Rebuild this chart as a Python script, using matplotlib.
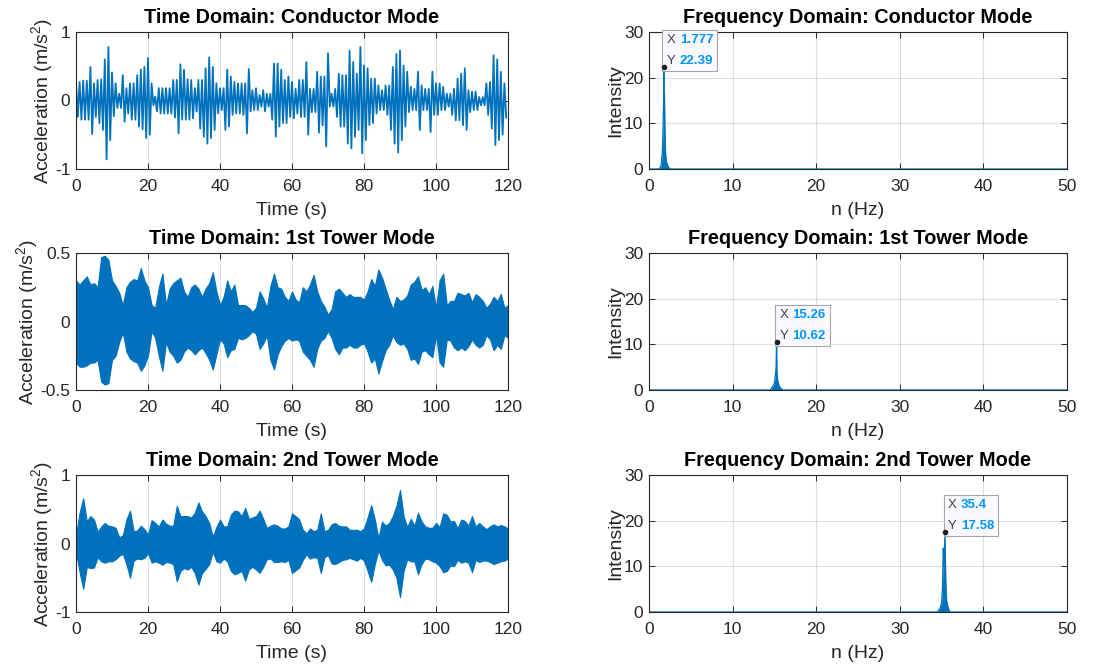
import numpy as np
import matplotlib.pyplot as plt
from matplotlib.ticker import FormatStrFormatter
from matplotlib.offsetbox import TextArea, HPacker, VPacker, AnnotationBbox

plt.rcParams['font.family'] = ['Liberation Sans', 'DejaVu Sans']
plt.rcParams['mathtext.fontset'] = 'custom'
plt.rcParams['mathtext.rm'] = 'Liberation Sans'
plt.rcParams['mathtext.it'] = 'Liberation Sans:italic'
plt.rcParams['axes.unicode_minus'] = False

#----------------------- data -----------------------#
# conductor mode: upper peaks at t = 0,1,2..., lower peaks at t = 0.5,1.5,...
cond_up = [0.26, 0.27, 0.29, 0.29, 0.49, 0.25, 0.30, 0.31, 0.60, 0.78,
           0.41, 0.25, 0.10, 0.37, 0.18, 0.25, 0.25, 0.37, 0.45, 0.49,
           0.62, 0.25, 0.06, 0.18, 0.18, 0.18, 0.18, 0.30, 0.30, 0.53,
           0.45, 0.31, 0.30, 0.18, 0.30, 0.30, 0.47, 0.63, 0.49, 0.25,
           0.18, 0.18, 0.45, 0.35, 0.27, 0.25, 0.25, 0.25, 0.46, 0.15,
           0.18, 0.08, 0.15, 0.10, 0.10, 0.54, 0.54, 0.45, 0.30, 0.35,
           0.27, 0.17, 0.30, 0.30, 0.56, 0.17, 0.17, 0.42, 0.35, 0.35,
           0.69, 0.10, 0.17, 0.39, 0.37, 0.37, 0.73, 0.56, 0.39, 0.78,
           0.51, 0.47, 0.32, 0.32, 0.22, 0.15, 0.22, 0.22, 0.49, 0.68,
           0.73, 0.51, 0.42, 0.20, 0.17, 0.42, 0.22, 0.17, 0.17, 0.42,
           0.25, 0.25, 0.20, 0.10, 0.10, 0.17, 0.32, 0.39, 0.47, 0.15,
           0.13, 0.13, 0.05, 0.05, 0.25, 0.27, 0.66, 0.60, 0.42, 0.25]
cond_lo = [-0.24, -0.28, -0.28, -0.28, -0.49, -0.24, -0.33, -0.43, -0.86, -0.58,
           -0.23, -0.11, -0.11, -0.31, -0.19, -0.28, -0.28, -0.38, -0.42, -0.55,
           -0.50, -0.07, -0.16, -0.19, -0.19, -0.19, -0.19, -0.25, -0.48, -0.28,
           -0.28, -0.28, -0.26, -0.16, -0.41, -0.53, -0.63, -0.55, -0.43, -0.19,
           -0.14, -0.43, -0.38, -0.21, -0.19, -0.19, -0.21, -0.48, -0.16, -0.14,
           -0.14, -0.09, -0.16, -0.09, -0.28, -0.53, -0.38, -0.33, -0.33, -0.24,
           -0.26, -0.19, -0.24, -0.24, -0.50, -0.17, -0.17, -0.47, -0.36, -0.67,
           -0.09, -0.09, -0.24, -0.38, -0.38, -0.63, -0.70, -0.53, -0.43, -0.77,
           -0.58, -0.36, -0.33, -0.19, -0.14, -0.14, -0.21, -0.43, -0.63, -0.76,
           -0.58, -0.38, -0.17, -0.14, -0.14, -0.43, -0.14, -0.14, -0.46, -0.21,
           -0.21, -0.14, -0.14, -0.09, -0.21, -0.29, -0.29, -0.36, -0.43, -0.17,
           -0.14, -0.14, -0.07, -0.07, -0.21, -0.41, -0.65, -0.58, -0.50, -0.25]

# 1st tower mode envelope, one value per second (t = 0..120)
tw1_up = [0.30, 0.27, 0.30, 0.33, 0.27, 0.28, 0.25, 0.47, 0.48, 0.45,
          0.30, 0.26, 0.21, 0.12, 0.25, 0.29, 0.31, 0.30, 0.39, 0.30,
          0.25, 0.12, 0.10, 0.25, 0.35, 0.12, 0.24, 0.28, 0.30, 0.32,
          0.22, 0.18, 0.25, 0.27, 0.24, 0.18, 0.24, 0.28, 0.36, 0.22,
          0.12, 0.18, 0.30, 0.22, 0.27, 0.12, 0.12, 0.12, 0.10, 0.07,
          0.10, 0.22, 0.17, 0.10, 0.26, 0.35, 0.25, 0.24, 0.18, 0.15,
          0.22, 0.16, 0.14, 0.25, 0.22, 0.27, 0.34, 0.22, 0.15, 0.11,
          0.05, 0.09, 0.22, 0.24, 0.21, 0.18, 0.20, 0.18, 0.18, 0.18,
          0.16, 0.22, 0.31, 0.26, 0.38, 0.32, 0.24, 0.16, 0.09, 0.18,
          0.15, 0.16, 0.19, 0.27, 0.29, 0.33, 0.23, 0.25, 0.20, 0.26,
          0.10, 0.30, 0.35, 0.12, 0.15, 0.15, 0.21, 0.20, 0.19, 0.21,
          0.14, 0.20, 0.18, 0.15, 0.10, 0.13, 0.18, 0.15, 0.20, 0.10, 0.12]
tw1_lo = [-0.30, -0.33, -0.33, -0.32, -0.30, -0.30, -0.28, -0.44, -0.46, -0.45,
          -0.28, -0.25, -0.15, -0.08, -0.22, -0.27, -0.29, -0.30, -0.36, -0.32,
          -0.25, -0.07, -0.12, -0.25, -0.36, -0.15, -0.22, -0.25, -0.30, -0.28,
          -0.22, -0.19, -0.21, -0.24, -0.21, -0.19, -0.23, -0.28, -0.35, -0.24,
          -0.13, -0.16, -0.26, -0.21, -0.20, -0.12, -0.13, -0.12, -0.10, -0.07,
          -0.09, -0.20, -0.16, -0.10, -0.28, -0.35, -0.24, -0.18, -0.14, -0.12,
          -0.14, -0.13, -0.14, -0.22, -0.25, -0.28, -0.33, -0.20, -0.14, -0.12,
          -0.07, -0.12, -0.20, -0.24, -0.19, -0.19, -0.17, -0.19, -0.19, -0.17,
          -0.16, -0.22, -0.30, -0.27, -0.38, -0.29, -0.21, -0.17, -0.10, -0.15,
          -0.17, -0.16, -0.20, -0.28, -0.27, -0.31, -0.22, -0.21, -0.24, -0.26,
          -0.10, -0.30, -0.33, -0.13, -0.14, -0.19, -0.21, -0.19, -0.21, -0.18,
          -0.13, -0.17, -0.19, -0.17, -0.10, -0.13, -0.21, -0.17, -0.20, -0.10, -0.12]

# 2nd tower mode envelope, one value per second (t = 0..120)
tw2_up = [0.12, 0.45, 0.66, 0.32, 0.40, 0.35, 0.17, 0.25, 0.30, 0.26,
          0.25, 0.23, 0.09, 0.12, 0.35, 0.48, 0.18, 0.19, 0.26, 0.21,
          0.13, 0.34, 0.30, 0.25, 0.35, 0.29, 0.26, 0.26, 0.55, 0.40,
          0.40, 0.40, 0.38, 0.45, 0.60, 0.47, 0.40, 0.30, 0.10, 0.24,
          0.35, 0.25, 0.25, 0.42, 0.48, 0.47, 0.40, 0.52, 0.36, 0.38,
          0.40, 0.48, 0.36, 0.23, 0.26, 0.28, 0.26, 0.22, 0.22, 0.25,
          0.44, 0.40, 0.35, 0.20, 0.15, 0.22, 0.18, 0.20, 0.44, 0.18,
          0.20, 0.28, 0.30, 0.26, 0.25, 0.25, 0.20, 0.20, 0.20, 0.18,
          0.22, 0.38, 0.56, 0.35, 0.08, 0.32, 0.26, 0.30, 0.40, 0.55,
          0.78, 0.40, 0.24, 0.36, 0.26, 0.45, 0.32, 0.25, 0.23, 0.23,
          0.30, 0.24, 0.44, 0.42, 0.32, 0.33, 0.22, 0.35, 0.33, 0.26,
          0.40, 0.25, 0.30, 0.25, 0.21, 0.25, 0.28, 0.25, 0.27, 0.25, 0.22]
tw2_lo = [-0.12, -0.42, -0.66, -0.34, -0.36, -0.35, -0.20, -0.26, -0.28, -0.26,
          -0.26, -0.23, -0.18, -0.15, -0.30, -0.50, -0.25, -0.22, -0.23, -0.21,
          -0.14, -0.28, -0.26, -0.28, -0.31, -0.27, -0.28, -0.30, -0.55, -0.40,
          -0.36, -0.38, -0.34, -0.43, -0.60, -0.43, -0.37, -0.30, -0.12, -0.26,
          -0.28, -0.22, -0.26, -0.40, -0.45, -0.43, -0.40, -0.54, -0.38, -0.34,
          -0.38, -0.43, -0.34, -0.23, -0.22, -0.27, -0.27, -0.26, -0.27, -0.24,
          -0.43, -0.39, -0.35, -0.24, -0.16, -0.22, -0.20, -0.21, -0.43, -0.20,
          -0.17, -0.29, -0.30, -0.27, -0.24, -0.23, -0.21, -0.23, -0.25, -0.21,
          -0.25, -0.40, -0.56, -0.30, -0.10, -0.24, -0.32, -0.31, -0.38, -0.50,
          -0.78, -0.40, -0.23, -0.26, -0.26, -0.45, -0.30, -0.22, -0.23, -0.26,
          -0.28, -0.33, -0.42, -0.40, -0.32, -0.33, -0.24, -0.28, -0.26, -0.28,
          -0.42, -0.24, -0.27, -0.25, -0.25, -0.27, -0.30, -0.28, -0.26, -0.25, -0.22]

# spectra (frequency in Hz, intensity)
cond_f = [0, 1.2, 1.4, 1.5, 1.6, 1.65, 1.7, 1.75, 1.777, 1.8, 1.85, 1.9, 1.95, 2.0, 2.1, 2.3, 2.5, 50]
cond_amp = [0, 0, 0.5, 1.5, 4, 7, 11, 15, 22.39, 12, 16.5, 9, 5, 3, 1.5, 0.5, 0, 0]
tw1_f = [0, 14.5, 14.8, 15.0, 15.1, 15.2, 15.26, 15.3, 15.4, 15.6, 16.0, 50]
tw1_amp = [0, 0, 0.8, 1.5, 3, 5, 10.62, 4, 2, 0.7, 0, 0]
tw2_f = [0, 34.5, 34.8, 35.0, 35.1, 35.2, 35.3, 35.4, 35.5, 35.6, 35.8, 36.0, 50]
tw2_amp = [0, 0, 0.8, 2, 5, 14, 10, 17.58, 6.5, 2.5, 0.8, 0, 0]

# data tips
tips = [(1.777, 22.39), (15.26, 10.62), (35.4, 17.58)]

#------------------------------- styling --------------------------------#
BLUE = '#0072BD'
DARK = '#262626'
TICK_FS = 12.5
LABEL_FS = 14
TITLE_FS = 14.3


def style_ax(ax, xlim, ylim, xticks, yticks, xlabel, ylabel, title):
    ax.set_xlim(xlim)
    ax.set_ylim(ylim)
    ax.set_xticks(xticks)
    ax.set_yticks(yticks)
    ax.yaxis.set_major_formatter(FormatStrFormatter('%g'))
    ax.set_axisbelow(True)
    ax.grid(True, color=DARK, alpha=0.15, linewidth=0.8)
    ax.tick_params(direction='in', top=True, right=True, length=4, width=0.7,
                   color=DARK, labelcolor=DARK, labelsize=TICK_FS)
    ax.tick_params(axis='x', pad=7)
    ax.tick_params(axis='y', pad=4)
    for sp in ax.spines.values():
        sp.set_color(DARK)
        sp.set_linewidth(0.8)
    ax.set_xlabel(xlabel, fontsize=LABEL_FS, color=DARK, labelpad=6)
    ax.set_ylabel(ylabel, fontsize=LABEL_FS, color=DARK, labelpad=0)
    ax.set_title(title, fontsize=TITLE_FS, fontweight='bold', color='black', pad=6.5)


def add_tip(ax, x, y):
    ax.plot(x, y, 'o', ms=3, mfc='#202020', mec='#202020', zorder=5)
    fs = 9.5
    lines = []
    for name, val in (('X', '%g' % x), ('Y', '%g' % y)):
        lines.append(HPacker(children=[
            TextArea(name, textprops=dict(color='#404040', fontsize=fs)),
            TextArea(val, textprops=dict(color='#0096FF', fontsize=fs, fontweight='bold'))],
            pad=0, sep=3))
    box = VPacker(children=lines, pad=0, sep=6)
    ab = AnnotationBbox(box, (x, y), xybox=(2, 0), xycoords='data',
                        boxcoords='offset points', box_alignment=(0, 0),
                        pad=0.45, frameon=True,
                        bboxprops=dict(facecolor='#F9F9FF', edgecolor='#A6A6A6',
                                       linewidth=0.8, boxstyle='square'))
    ax.add_artist(ab)


fig = plt.figure(figsize=(11.12, 6.67), dpi=100)
W, H = 1112.0, 667.0
rows_px = [(32, 169), (253, 390), (475, 612)]
left_px = (76, 508)
right_px = (649, 1067)

time_axes = []
freq_axes = []
for top, bot in rows_px:
    b = 1 - bot / H
    h = (bot - top) / H
    time_axes.append(fig.add_axes([left_px[0] / W, b, (left_px[1] - left_px[0]) / W, h]))
    freq_axes.append(fig.add_axes([right_px[0] / W, b, (right_px[1] - right_px[0]) / W, h]))

ylab = r'Acceleration (m/s$^2$)'
t_sec = np.arange(121)

# conductor mode: alternate up / down peaks
ax = time_axes[0]
t_up = np.arange(len(cond_up))
zig_t = np.ravel(np.column_stack([t_up, t_up + 0.5]))
zig_y = np.ravel(np.column_stack([cond_up, cond_lo]))
ax.plot(zig_t, zig_y, color=BLUE, linewidth=1.3)
style_ax(ax, (0, 120), (-1, 1), range(0, 121, 20), [-1, 0, 1],
         'Time (s)', ylab, 'Time Domain: Conductor Mode')

ax = time_axes[1]
ax.fill_between(t_sec, tw1_lo, tw1_up, color=BLUE, linewidth=0.8, edgecolor=BLUE)
style_ax(ax, (0, 120), (-0.5, 0.5), range(0, 121, 20), [-0.5, 0, 0.5],
         'Time (s)', ylab, 'Time Domain: 1st Tower Mode')

ax = time_axes[2]
ax.fill_between(t_sec, tw2_lo, tw2_up, color=BLUE, linewidth=0.8, edgecolor=BLUE)
style_ax(ax, (0, 120), (-1, 1), range(0, 121, 20), [-1, 0, 1],
         'Time (s)', ylab, 'Time Domain: 2nd Tower Mode')

spectra = [(cond_f, cond_amp, 'Frequency Domain: Conductor Mode'),
           (tw1_f, tw1_amp, 'Frequency Domain: 1st Tower Mode'),
           (tw2_f, tw2_amp, 'Frequency Domain: 2nd Tower Mode')]
for ax, (f, a, title), tip in zip(freq_axes, spectra, tips):
    ax.fill_between(f, 0, a, color=BLUE, linewidth=0)
    ax.plot(f, a, color=BLUE, linewidth=0.9)
    style_ax(ax, (0, 50), (0, 30), range(0, 51, 10), [0, 10, 20, 30],
             'n (Hz)', 'Intensity', title)
    add_tip(ax, *tip)

fig.savefig('out.png', dpi=100)
